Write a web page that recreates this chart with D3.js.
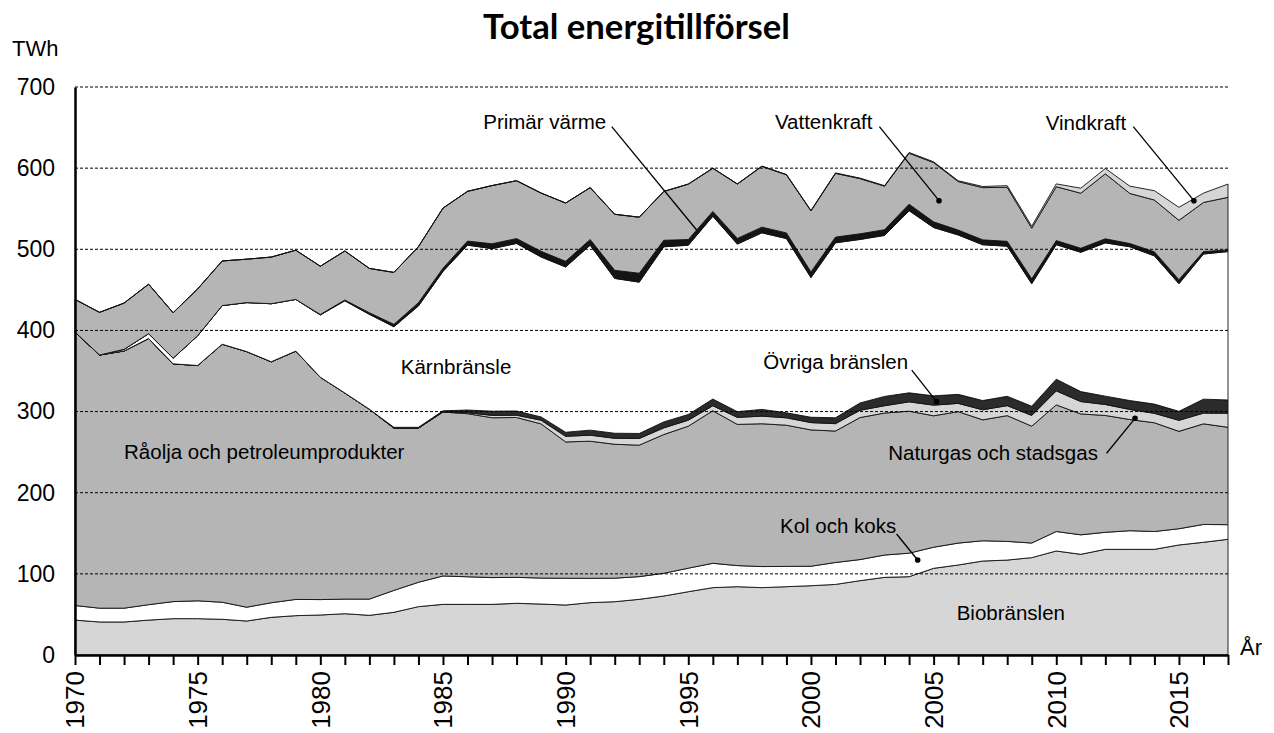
<!DOCTYPE html>
<html><head><meta charset="utf-8">
<script src="https://cdn.jsdelivr.net/npm/d3@7"></script>
<style>
html,body{margin:0;padding:0;background:#fff;}
svg{display:block;}
</style></head>
<body>
<svg id="chart" width="1274" height="733"></svg>
<script>
// ---- Data (TWh), years 1970–2017 ----
const years = d3.range(1970, 2018);
const seriesNames = ["Biobränslen","Kol och koks","Råolja och petroleumprodukter","Naturgas och stadsgas","Övriga bränslen","Kärnbränsle","Primär värme","Vattenkraft","Vindkraft"];
const bio = [43,40.7,40.7,43,44.8,44.8,44,41.9,46.4,48.5, 49.3,50.9,48.9,52.6,59.6,62.4,62.4,62.4,63.7,62.8, 61.6,64.5,65.7,68.6,72.7,78,83,84.2,83,84.2, 85.4,87,91.6,95.7,96.5,106.8,110.9,115.8,117,120, 128.2,124.1,130.2,130.2,130.2,135.6,138.9,142.6];
const kol = [18,17,17,19,21,22,21,17,18,20, 19,18,20,27,30,35,34,33,32,32, 33,30,29,28,28,29,30,26,26,25, 24,27,26,27.5,29,26,27,25,23,18, 24,24,21,23,22,20,22,18];
const olja = [337,312,317,328,293,290,318,315,297,306, 274,254,234,200,190,202,201,197,197,190, 168,169,165,162,171,175,188,174,176,174, 168,162,175,175,175,162,162,149,155,144, 156,149,144,137,134,120,124,120];
const naturgas = [0,0,0,0,0,0,0,0,0,0, 0,0,0,0,0,0.5,1.2,2.9,2.8,4.5, 6.9,7.4,7.4,8.2,8.2,7.4,6.2,8.6,9.4,9.1, 9,9.1,9,9,11.5,13.1,10.2,12.4,12.3,13.2, 17.3,15.2,13.5,12.4,11.6,13.6,13.2,17.3];
const ovriga = [0,0,0,0,0,0,0,0,0,0, 0,0,0,1,1,1,3.3,5.2,5.2,4.1, 5,6.2,6.2,6.2,7.4,7,8.2,7.1,8.3,6.2, 6.6,7.3,9,11.5,11.1,11.5,11.1,11.4,11.5,11.4, 14.4,12.3,10.3,11,11.4,11.1,17.2,16.4];
const karn = [0,0,2,6,7,36.6,47.6,60.4,71.5,63.7, 76.8,113.6,116.9,123.9,149.6,171.8,203.2,200.3,206.5,197.1, 203.7,228,190.8,186.5,215.8,208.6,225.3,206.5,217.6,214.7, 172.1,215.6,201.5,198.4,224.5,207.4,196.5,192,185,151, 165.8,171.7,188.9,189.5,182.7,157.3,178.9,182.9];
const primar = [0,0,0,0,0,0,0,0,0,0, 0.5,1,2,3,4,4,5,6,6,7, 7,7,10,11,8,7,6,7,7,7, 7,7,7,7,8,7,6,6,6,6, 5,5,5,4,5,5,3,2];
const vatten = [40.2,52.6,57,61,56,57.8,55,53.5,57.5,60.7, 59.5,60.4,54.6,64,69,74,61.3,71.7,71.3,71.8, 71.8,63.9,69,69,60.1,68.3,53.1,67,74.9,71.6, 75.2,78.6,68,53.7,62.8,73.1,59.8,64.4,66.6,62.4, 66.4,67.8,80.1,61.7,63.8,73.1,60.5,64.8];
const vind = [0,0,0,0,0,0,0,0,0,0, 0,0,0,0,0,0,0,0,0,0, 0,0,0.1,0.1,0.1,0.1,0.2,0.2,0.3,0.4, 0.5,0.5,0.6,0.6,0.9,0.9,1,1.4,2,2.5, 3.5,6.2,6.6,9,11.5,16,11.5,16.4];
const yTicks = [0,100,200,300,400,500,600,700];
const xLabelYears = [1970,1975,1980,1985,1990,1995,2000,2005,2010,2015];

// annotation positions in data coordinates (year, TWh)
const labels = [
  {t:"Primär värme", x:1986.64, y:647.9},
  {t:"Vattenkraft", x:1998.53, y:647.9},
  {t:"Vindkraft", x:2009.57, y:647},
  {t:"Kärnbränsle", x:1983.28, y:346.3},
  {t:"Råolja och petroleumprodukter", x:1972.0, y:241.2},
  {t:"Övriga bränslen", x:1998.06, y:352.1},
  {t:"Naturgas och stadsgas", x:2003.15, y:240.3},
  {t:"Kol och koks", x:1998.74, y:150.7},
  {t:"Biobränslen", x:2005.94, y:43.1}
];
const leaders = [
  {x1:1991.88, y1:651.1, x2:1995.34, y2:523.8, dot:false},
  {x1:2002.79, y1:651.1, x2:2005.22, y2:559.9, dot:true},
  {x1:2013.14, y1:651.1, x2:2015.61, y2:559.9, dot:true},
  {x1:2004.11, y1:351.2, x2:2005.12, y2:312.2, dot:true},
  {x1:2012.05, y1:248.6, x2:2013.21, y2:291.7, dot:true},
  {x1:2003.49, y1:149.1, x2:2004.35, y2:117.1, dot:true}
];

// ---- build table ----
const cols = [bio,kol,olja,naturgas,ovriga,karn,primar,vatten,vind];
const table = years.map((yr,i)=>{
  const o = {year:yr};
  seriesNames.forEach((n,k)=>o[n]=cols[k][i]);
  return o;
});
const fills = ["#d6d6d6","#ffffff","#b5b5b5","#d6d6d6","#2b2b2b","#ffffff","#141414","#b5b5b5","#d6d6d6"];
const FONT = "'Liberation Sans', Arial, sans-serif";

const svg = d3.select("#chart");
const x = d3.scaleLinear().domain([1970,2017]).range([75,1228]);
const y = d3.scaleLinear().domain([0,700]).range([655,87]);

const stack = d3.stack().keys(seriesNames);
const layers = stack(table);
const area = d3.area().x(d=>x(d.data.year)).y0(d=>y(d[0])).y1(d=>y(d[1]));

svg.append("g").selectAll("path").data(layers).join("path")
  .attr("d", area)
  .attr("fill", (d,i)=>fills[i])
  .attr("stroke", "#111")
  .attr("stroke-width", 0.9)
  .attr("stroke-linejoin","round");

// gridlines
svg.append("g").selectAll("line").data(yTicks.filter(v=>v>0)).join("line")
  .attr("x1", x(1970)).attr("x2", x(2017))
  .attr("y1", d=>y(d)).attr("y2", d=>y(d))
  .attr("stroke","#000").attr("stroke-width",1).attr("stroke-dasharray","3,2");

// y axis
const yAxis = d3.axisLeft(y).tickValues(yTicks).tickSize(0).tickPadding(20);
const gy = svg.append("g").attr("transform","translate(75,0)").call(yAxis);
gy.select(".domain").attr("stroke","#000").attr("stroke-width",2.5);
gy.selectAll("text").attr("font-family",FONT).attr("font-size",23).attr("fill","#000");

// x axis
const xAxis = d3.axisBottom(x).tickValues(years).tickSize(10).tickSizeOuter(0).tickFormat("");
const gx = svg.append("g").attr("transform","translate(0,655)").call(xAxis);
gx.select(".domain").attr("stroke","#000").attr("stroke-width",2.5);
gx.selectAll(".tick line").attr("stroke","#000").attr("stroke-width",2);

svg.append("g").selectAll("text").data(xLabelYears).join("text")
  .attr("transform", d=>`translate(${x(d)},671) rotate(-90)`)
  .attr("text-anchor","end")
  .attr("dy","0.36em")
  .attr("font-family",FONT)
  .attr("font-size",26)
  .text(d=>d);

// axis titles
svg.append("text").attr("x",12).attr("y",56)
  .attr("font-family",FONT).attr("font-size",22).text("TWh");
svg.append("text").attr("x",1240).attr("y",655)
  .attr("font-family",FONT).attr("font-size",22).text("År");

// title
const title = svg.append("text").attr("x",636.5).attr("y",39)
  .attr("text-anchor","middle")
  .attr("font-family","Lato, 'Open Sans', sans-serif").attr("font-weight",700)
  .attr("font-size",30).text("Total energitillförsel");
const tw = title.node().getComputedTextLength();
if (tw>0) title.attr("font-size", 30*307/tw);

// leaders
svg.append("g").selectAll("line").data(leaders).join("line")
  .attr("x1",d=>x(d.x1)).attr("y1",d=>y(d.y1))
  .attr("x2",d=>x(d.x2)).attr("y2",d=>y(d.y2))
  .attr("stroke","#000").attr("stroke-width",1.3);
svg.append("g").selectAll("circle").data(leaders.filter(d=>d.dot)).join("circle")
  .attr("cx",d=>x(d.x2)).attr("cy",d=>y(d.y2)).attr("r",2.8).attr("fill","#000");

// labels
svg.append("g").selectAll("text").data(labels).join("text")
  .attr("x",d=>x(d.x)).attr("y",d=>y(d.y))
  .attr("font-family",FONT)
  .attr("font-size",20.5).attr("fill","#000")
  .text(d=>d.t);
</script>
</body></html>
